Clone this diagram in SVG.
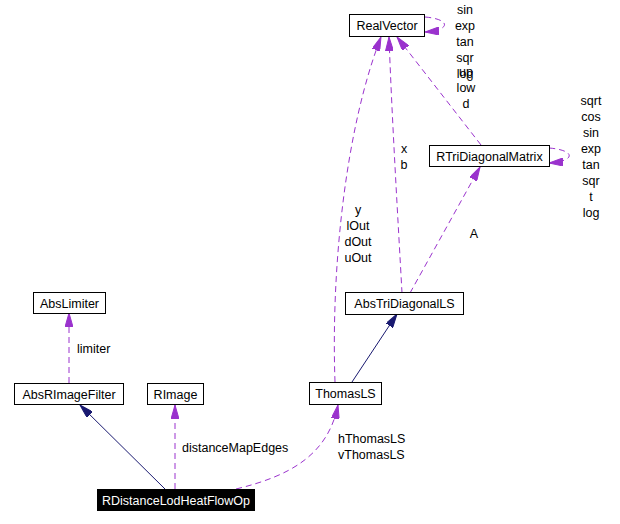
<svg xmlns="http://www.w3.org/2000/svg" width="620" height="524" viewBox="0 0 620 524">
<style>
text{font-family:"Liberation Sans",Arial,sans-serif;font-size:12.5px;fill:#000}
.n rect{fill:#fff;stroke:#000;stroke-width:1}
.n text{text-anchor:middle}
.d{fill:none;stroke:#9a32cd;stroke-width:1;stroke-dasharray:6,4}
.s{fill:none;stroke:#191970;stroke-width:1}
.m{text-anchor:middle}
</style>
<defs>
<marker id="ap" viewBox="0 0 14 8" refX="14" refY="4" markerWidth="14" markerHeight="8" markerUnits="userSpaceOnUse" orient="auto">
<path d="M0,0L14,4L0,8z" fill="#9a32cd" stroke="#9a32cd"/>
</marker>
<marker id="an" viewBox="0 0 14 8" refX="14" refY="4" markerWidth="14" markerHeight="8" markerUnits="userSpaceOnUse" orient="auto">
<path d="M0,0L14,4L0,8z" fill="#191970" stroke="#191970"/>
</marker>
</defs>
<rect width="620" height="524" fill="#fff"/>
<g id="edges">
<path class="d" d="M425,17C450,19 452,30 425,32" marker-end="url(#ap)"/>
<path class="d" d="M549,148C575,150 577,161 549,163" marker-end="url(#ap)"/>
<path class="d" d="M335,382C331,270 345,130 381,37" marker-end="url(#ap)"/>
<path class="d" d="M402,293C398,220 392,120 389,37" marker-end="url(#ap)"/>
<path class="d" d="M481,145L397,37" marker-end="url(#ap)"/>
<path class="d" d="M410,293L480,167" marker-end="url(#ap)"/>
<path class="s" d="M352,382L397,314" marker-end="url(#an)"/>
<path class="d" d="M69,383L69,313" marker-end="url(#ap)"/>
<path class="s" d="M165,489L80,405" marker-end="url(#an)"/>
<path class="d" d="M175,489L175,405" marker-end="url(#ap)"/>
<path class="d" d="M236,489C290,476 328,455 338,405" marker-end="url(#ap)"/>
</g>
<g id="labels">
<text class="m" x="465" y="14">sin</text>
<text class="m" x="465" y="30">exp</text>
<text class="m" x="465" y="46">tan</text>
<text class="m" x="465" y="62">sqr</text>
<text class="m" x="466" y="76">up</text>
<text class="m" x="465" y="78">log</text>
<text class="m" x="466" y="92">low</text>
<text class="m" x="466" y="108">d</text>
<text class="m" x="591" y="105">sqrt</text>
<text class="m" x="591" y="121">cos</text>
<text class="m" x="591" y="137">sin</text>
<text class="m" x="591" y="153">exp</text>
<text class="m" x="591" y="169">tan</text>
<text class="m" x="591" y="185">sqr</text>
<text class="m" x="591" y="201">t</text>
<text class="m" x="591" y="217">log</text>
<text class="m" x="404" y="153">x</text>
<text class="m" x="404" y="169">b</text>
<text class="m" x="358" y="214">y</text>
<text class="m" x="358" y="230">lOut</text>
<text class="m" x="358" y="246">dOut</text>
<text class="m" x="358" y="262">uOut</text>
<text class="m" x="474" y="238">A</text>
<text x="77" y="353">limiter</text>
<text x="182" y="452">distanceMapEdges</text>
<text x="338" y="443">hThomasLS</text>
<text x="338" y="459">vThomasLS</text>
</g>
<g id="RealVector" class="n"><rect x="349.5" y="14.5" width="75" height="22"/><text x="387" y="30">RealVector</text></g>
<g id="RTriDiagonalMatrix" class="n"><rect x="429.5" y="145.5" width="120" height="21"/><text x="489.5" y="161">RTriDiagonalMatrix</text></g>
<g id="AbsTriDiagonalLS" class="n"><rect x="345.5" y="292.5" width="118" height="22"/><text x="404.5" y="308">AbsTriDiagonalLS</text></g>
<g id="AbsLimiter" class="n"><rect x="33.5" y="292.5" width="72" height="21"/><text x="69.5" y="308">AbsLimiter</text></g>
<g id="AbsRImageFilter" class="n"><rect x="14.5" y="383.5" width="109" height="21"/><text x="69" y="399">AbsRImageFilter</text></g>
<g id="RImage" class="n"><rect x="147.5" y="383.5" width="56" height="21"/><text x="175.5" y="399">RImage</text></g>
<g id="ThomasLS" class="n"><rect x="309.5" y="382.5" width="72" height="22"/><text x="345.5" y="398">ThomasLS</text></g>
<g id="RDistanceLodHeatFlowOp"><rect x="97" y="489" width="158" height="22" fill="#000"/><text x="176" y="505" text-anchor="middle" fill="#fff" style="fill:#fff">RDistanceLodHeatFlowOp</text></g>
</svg>
